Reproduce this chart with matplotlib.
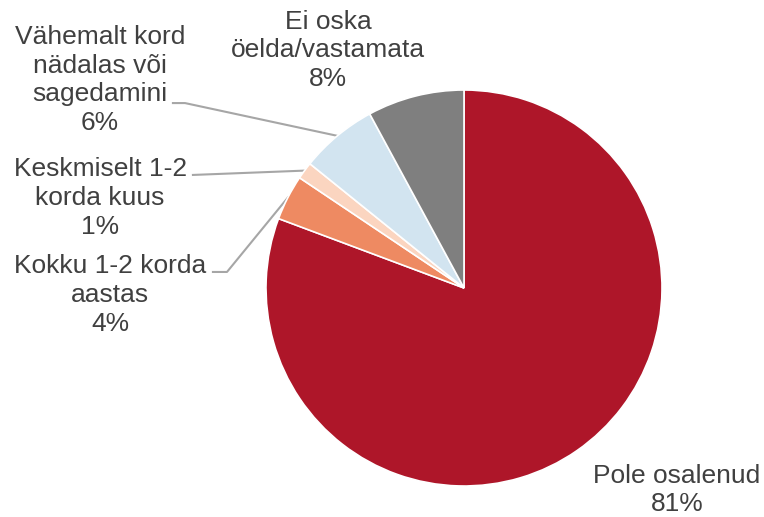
import numpy as np
import matplotlib
matplotlib.use("Agg")
import matplotlib.pyplot as plt

# Data (order: clockwise from 12 o'clock)
categories = ["Pole osalenud", "Kokku 1-2 korda\naastas", "Keskmiselt 1-2\nkorda kuus",
              "Vähemalt kord\nnädalas või\nsagedamini", "Ei oska\nöelda/vastamata"]
values = [80.7, 3.7, 1.4, 6.3, 7.9]
colors = ["#AE1629", "#EE8A62", "#FBD5C0", "#D2E4F0", "#7F7F7F"]

# label block centres (pie radius units) and leader-line starts
label_pos = [(1.076, -1.02), (-1.788, -0.035), (-1.838, 0.455), (-1.838, 1.05), (-0.687, 1.20)]
leader_start = [None, [(-1.268, 0.081), (-1.197, 0.081)], [(-1.369, 0.571)],
                [(-1.47, 0.934), (-1.409, 0.934)], None]

plt.rcParams["font.family"] = ["Liberation Sans", "DejaVu Sans"]

W, H = 764, 517
cx, cy, R = 464, 288, 198
fig = plt.figure(figsize=(W / 100, H / 100), dpi=100)
ax = fig.add_axes([(cx - R) / W, (H - cy - R) / H, 2 * R / W, 2 * R / H])

wedges, _ = ax.pie(values, colors=colors, startangle=90, counterclock=False,
                   radius=1, wedgeprops=dict(edgecolor="white", linewidth=1.2))
ax.set_xlim(-1, 1)
ax.set_ylim(-1, 1)
ax.set_aspect("equal")
ax.axis("off")

for w, cat, v, pos, ls in zip(wedges, categories, values, label_pos, leader_start):
    ax.text(pos[0], pos[1], f"{cat}\n{round(v):.0f}%", ha="center", va="center",
            multialignment="center", fontsize=19, color="#404040",
            linespacing=1.25, clip_on=False)
    if ls:
        mid = np.deg2rad((w.theta1 + w.theta2) / 2)
        pts = ls + [(np.cos(mid), np.sin(mid))]
        xs, ys = zip(*pts)
        ax.plot(xs, ys, color="#A6A6A6", lw=1.5, clip_on=False, zorder=0)

fig.savefig("out.png", dpi=100, facecolor="white")
